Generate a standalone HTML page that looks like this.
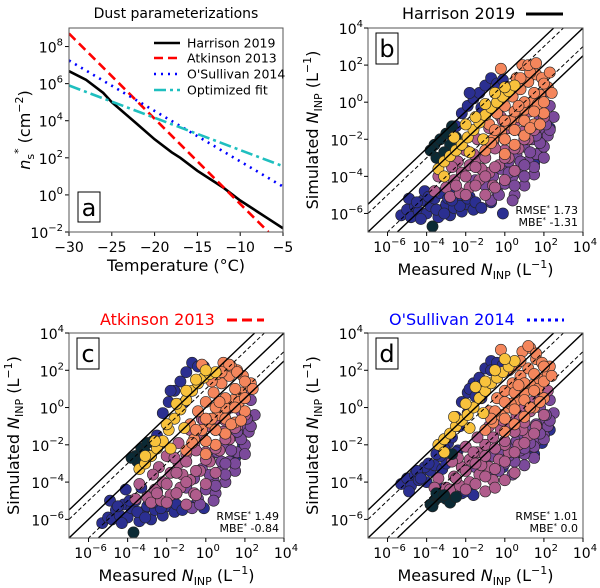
<!DOCTYPE html>
<html><head><meta charset="utf-8"><style>
html,body{margin:0;padding:0;background:#fff;}
svg{display:block;font-family:"DejaVu Sans","Liberation Sans",sans-serif;}
</style></head><body>
<svg id="fig" width="600" height="588" viewBox="0 0 600 588" xmlns="http://www.w3.org/2000/svg"></svg>
<script>
// ---------- Panel a data ----------
const tempTicks=[-30,-25,-20,-15,-10,-5];
const nsTicks=[-2,0,2,4,6,8];
const harrisonT=[-30,-28,-26,-25,-24,-22,-20,-18,-17,-15,-13,-12,-10,-8,-7,-5];
const harrisonLog=[6.67,6.2,5.5,5.0,4.6,3.8,3.0,2.3,2.0,1.3,0.7,0.4,-0.3,-0.9,-1.2,-1.8];
const atkinsonT=[-30,-6.7];
const atkinsonLog=[8.7,-2.0];
const osullivanT=[-30,-5];
const osullivanLog=[7.25,0.45];
const optimizedT=[-30,-5];
const optimizedLog=[5.9,1.55];

// ---------- Scatter data (log10 values) ----------
const logTicks=[-6,-4,-2,0,2,4];
const navyX=[-3.6,-3.3,-3.0,-2.8,-3.5,-3.1,-2.7,-3.8,-2.5,-3.7];
const navyYb=[-2.3,-2.0,-1.7,-2.3,-3.0,-2.7,-1.3,-2.6,-1.9,-6.7];
const navyYc=[-2.6,-2.2,-1.9,-2.6,-2.9,-2.4,-1.8,-2.7,-2.1,-6.7];
const navyYd=[-5.0,-4.8,-4.9,-5.1,-4.6,-4.7,-2.5,-5.2,-4.8,-5.3];
const blueX=[-5.3,-5.0,-4.8,-4.6,-4.4,-4.2,-4.0,-3.8,-3.6,-3.4,-3.2,-3.0,-2.8,-2.6,-2.4,-2.2,-2.0,-1.8,-1.6,-4.9,-4.1,-3.3,-2.5,
 -2.2,-1.9,-1.6,-1.3,-1.0,-0.7,-0.4,-0.1,0.2,-1.8,-1.2,-2.5, 1.9,1.5,-0.1,2.3,
 -4.5,-3.9,-3.5,-2.9,-2.3,-1.9,-4.3,-3.1,-2.7,-1.5,-1.2,-0.7];
const blueYb=[-6.1,-5.8,-6.2,-5.6,-5.9,-5.3,-6.0,-5.6,-5.2,-6.2,-5.8,-5.5,-6.1,-5.7,-5.2,-5.9,-5.5,-5.1,-5.8,-5.2,-4.8,-4.9,-4.7,
 -0.6,-0.2,0.2,0.5,0.9,1.3,1.0,1.2,0.8,0.5,-0.3,-1.3, -2.5,-3.3,-6.0,-1.4,
 -5.4,-5.1,-5.8,-5.2,-5.6,-5.2,-6.3,-6.0,-5.3,-5.4,-5.7,-5.4];
const blueYc=[-6.2,-5.9,-6.0,-5.5,-5.8,-5.2,-5.9,-5.4,-5.0,-6.1,-5.6,-5.3,-6.0,-5.5,-5.0,-5.8,-5.3,-4.9,-5.6,-5.0,-4.4,-4.3,-4.5,
 -0.3,0.3,0.9,1.4,1.9,2.4,2.2,2.2,1.8,0.9,0.2,-1.5, -2.0,-2.7,-5.4,-1.0,
 -5.3,-5.0,-5.6,-5.0,-5.4,-5.0,-6.2,-5.9,-5.1,-5.2,-5.5,-5.3];
const blueYd=[-4.1,-3.8,-4.2,-3.6,-3.9,-3.4,-4.0,-3.4,-3.1,-4.3,-3.3,-3.0,-4.4,-2.7,-2.3,-4.6,-4.5,-4.3,-4.7,-4.5,-3.2,-2.6,-2.4,
 0.3,0.8,1.3,1.6,2.1,2.5,2.4,2.3,2.0,1.0,0.5,-0.5, -1.9,-2.5,-3.2,-1.2,
 -3.4,-3.0,-2.5,-1.9,-1.0,-0.3,-3.8,-2.2,-1.6,0.6,1.2,2.0];
const purpleX=[-1.0,-0.6,-0.2,0.2,0.6,1.0,1.4,1.8,-0.4,0.0,0.4,0.8,1.2,1.6,2.0,2.2,0.5,1.0,1.5,-1.5,-0.7,2.5,2.3,1.8,
 0.5,1.0,1.5,2.0,0.8,1.3,1.8,2.3,0.2,1.0,1.6,2.1,-0.3,0.4];
const purpleYb=[-4.5,-4.0,-3.6,-3.2,-2.8,-2.4,-2.0,-1.6,-4.8,-4.4,-4.0,-3.6,-3.2,-2.8,-2.4,-1.8,-5.0,-4.5,-3.9,-4.2,-5.3,-0.8,-0.2,-0.8,
 -4.5,-4.0,-3.5,-3.0,-3.2,-2.7,-2.2,-1.5,-3.8,-3.4,-1.8,-1.2,-5.0,-5.3];
const purpleYc=[-4.3,-3.8,-3.3,-2.8,-2.4,-2.0,-1.5,-1.1,-4.9,-4.4,-3.9,-3.4,-2.9,-2.4,-2.0,-1.3,-4.6,-4.0,-3.4,-4.6,-5.4,-0.4,0.4,-0.2,
 -4.2,-3.6,-3.0,-2.5,-2.9,-2.3,-1.7,-1.0,-3.6,-3.0,-1.3,-0.6,-5.2,-5.0];
const purpleYd=[-3.0,-2.6,-2.4,-2.1,-1.8,-1.5,-1.2,-0.9,-3.3,-3.0,-2.7,-2.4,-2.1,-1.8,-1.5,-1.0,-3.5,-3.1,-2.7,-3.2,-3.6,-0.3,0.4,0.0,
 -2.9,-2.5,-2.1,-1.7,-2.3,-1.9,-1.4,-0.7,-2.6,-2.2,-0.9,-0.4,-3.4,-3.6];
const mauveX=[-3.4,-3.0,-2.6,-2.2,-1.8,-1.4,-1.0,-0.6,-0.2,0.2,0.6,1.0,1.4,1.8,-2.8,-2.3,-1.8,-1.3,-0.8,-0.3,0.2,0.7,1.2,1.6,-2.0,-1.4,-0.8,-0.2,-3.6,-2.4,-1.2,0.0,0.9,2.0,2.2,-0.6,
 -2.5,-2.0,-1.5,-1.0,-0.5,0.0,0.5,1.0,-2.0,-1.5,-1.0,-0.5,0.0,0.5,1.0,1.5,-1.0,-0.5,0.0,0.5,-2.7,-1.6,-0.1,1.3];
const mauveYb=[-4.0,-4.6,-4.2,-3.8,-3.4,-3.0,-2.6,-2.2,-1.8,-1.4,-1.0,-0.6,-0.2,0.2,-5.1,-4.9,-4.6,-4.2,-3.8,-3.4,-3.0,-2.5,-2.0,-1.4,-2.6,-2.0,-1.4,-0.8,-4.8,-3.2,-3.6,-2.6,-1.6,-0.8,0.6,-4.5,
 -4.5,-4.0,-3.5,-3.0,-2.5,-2.0,-1.5,-1.0,-5.0,-4.5,-4.0,-3.5,-3.0,-2.5,-2.0,-1.5,-5.0,-4.6,-4.2,-3.7,-3.5,-2.8,-1.0,-0.5];
const mauveYc=[-4.1,-4.8,-4.4,-4.0,-3.5,-3.0,-2.5,-2.0,-1.5,-1.0,-0.6,-0.2,0.2,0.6,-5.1,-5.0,-4.7,-4.3,-3.9,-3.4,-2.9,-2.3,-1.7,-1.0,-2.6,-1.9,-1.2,-0.6,-4.9,-3.2,-3.6,-2.4,-1.3,-0.4,1.0,-4.6,
 -4.6,-4.1,-3.5,-2.9,-2.3,-1.8,-1.2,-0.7,-5.1,-4.6,-4.0,-3.4,-2.8,-2.2,-1.7,-1.1,-5.2,-4.7,-4.1,-3.5,-3.6,-2.7,-0.7,0.0];
const mauveYd=[-3.8,-4.3,-3.7,-3.2,-2.8,-2.4,-2.0,-1.6,-1.2,-0.8,-0.4,0.0,0.3,0.6,-4.4,-4.2,-4.0,-3.6,-3.2,-2.8,-2.4,-2.0,-1.5,-1.0,-2.1,-1.6,-1.0,-0.5,-4.3,-2.7,-3.1,-2.0,-1.2,-0.4,0.9,-3.9,
 -3.8,-3.4,-3.0,-2.6,-2.2,-1.8,-1.3,-0.8,-4.4,-4.1,-3.7,-3.3,-2.9,-2.4,-1.9,-1.4,-4.5,-4.3,-3.9,-3.5,-2.9,-2.4,-0.7,-0.2];
const orangeX=[-1.0,-0.6,-0.2,0.2,0.6,1.0,1.4,1.8,2.2,0.0,0.5,1.0,1.5,2.0,-0.4,0.0,0.4,0.8,1.2,1.6,-0.8,0.3,1.7,1.3,0.9,1.2,-0.2,1.9,2.3,1.6,0.6,
 -0.5,0.0,0.5,1.0,1.5,2.0,0.0,0.5,1.0,1.5,2.0,2.4,0.3,0.8,1.3,1.8,-0.7,0.7];
const orangeYb=[-2.6,-2.0,-1.6,-1.2,-0.8,-0.4,0.0,0.4,0.8,-2.8,-2.3,-1.8,-1.2,-0.6,-0.6,-0.2,0.3,0.7,1.1,1.5,-1.2,-1.0,-0.1,1.6,2.0,2.0,1.8,1.3,1.6,2.1,1.3,
 -1.5,-1.0,-0.5,0.0,0.5,1.0,-2.0,-1.5,-1.0,-0.5,0.0,0.5,0.8,1.3,-1.4,-1.2,-2.2,-0.2];
const orangeYc=[-2.3,-1.7,-1.2,-0.8,-0.4,0.0,0.4,0.8,1.2,-2.5,-2.0,-1.4,-0.8,-0.2,-0.2,0.3,0.8,1.3,1.7,2.0,-0.9,-0.6,0.3,2.2,2.4,2.3,2.3,1.7,1.3,1.9,1.8,
 -1.2,-0.6,0.0,0.5,1.0,1.4,-1.8,-1.2,-0.6,0.0,0.5,1.0,1.4,1.9,-0.9,-0.7,-1.9,0.3];
const orangeYd=[-1.2,-0.8,-0.4,0.0,0.4,0.8,1.2,1.5,1.8,-1.3,-0.9,-0.5,0.0,0.5,0.5,0.9,1.3,1.7,2.1,2.6,-0.2,0.2,1.0,3.2,3.0,3.3,3.1,2.4,2.2,2.9,2.3,
 -0.2,0.3,0.8,1.3,1.8,2.2,-0.6,-0.1,0.4,0.9,1.4,1.7,2.1,2.5,0.0,0.3,-0.6,1.2];
const yellowX=[-3.4,-3.1,-2.8,-2.5,-2.2,-1.9,-1.6,-1.3,-1.0,-0.7,-0.4,-0.1,0.2,0.5,-1.5,-1.0,-0.5,-2.6,-1.8,-2.0,0.0,-3.1,-1.1];
const yellowYb=[-3.6,-3.2,-2.9,-2.6,-2.3,-1.9,-1.5,-1.1,-0.7,-0.3,0.0,0.3,0.6,0.9,-0.8,-0.1,0.5,-1.9,-2.7,-1.2,0.8,-4.0,-2.0];
const yellowYc=[-3.3,-3.0,-2.6,-2.2,-1.8,-1.2,-0.6,-0.1,0.4,0.9,1.3,1.6,1.8,1.9,0.2,0.9,1.5,-1.8,-2.2,-0.9,2.0,-2.6,-1.1];
const yellowYd=[-2.0,-1.7,-1.4,-1.0,-0.7,-0.4,0.0,0.5,0.9,1.3,1.6,1.9,2.2,2.5,1.1,1.4,2.0,-0.5,-1.1,0.2,2.6,-2.4,-0.3];
const refOffsets=[0,1,-1,1.5,-1.5];
const statsB=["1.73","-1.31"], statsC=["1.49","-0.84"], statsD=["1.01","0.0"];

const NS="http://www.w3.org/2000/svg";
const svg=document.getElementById('fig');
function mk(tag,attrs,parent){const e=document.createElementNS(NS,tag);for(const k in attrs)e.setAttribute(k,attrs[k]);(parent||svg).appendChild(e);return e;}
function txt(x,y,s,size,anchor,parent,fill){const t=mk('text',{x:x,y:y,'font-size':size,'text-anchor':anchor||'start',fill:fill||'#000'},parent);t.textContent=s;return t;}
function pow10(x,y,exp,anchor,parent){
  const t=mk('text',{x:x,y:y,'font-size':14,'text-anchor':anchor},parent);
  const a=document.createElementNS(NS,'tspan');a.textContent='10';t.appendChild(a);
  const b=document.createElementNS(NS,'tspan');b.setAttribute('dy',-7);b.setAttribute('font-size',10);
  b.textContent=exp<0?'\u2212'+(-exp):String(exp);t.appendChild(b);return t;}

// ---------- Panel a ----------
(function(){
  const X0=69,X1=283,Y0=28,Y1=232;
  const g=mk('g',{});
  
  
  const xs=t=>X0+(t+30)/25*(X1-X0);
  const ys=l=>Y1-(l+2)/11*(Y1-Y0);
  const cpa=mk('clipPath',{id:'clipA'},g);
  mk('rect',{x:X0,y:Y0,width:X1-X0,height:Y1-Y0},cpa);
  const title=txt(176,18,'Dust parameterizations',14,'middle',g);
  
  
  tempTicks.forEach(t=>{
    mk('line',{x1:xs(t),x2:xs(t),y1:Y1,y2:Y1+4,stroke:'#000'},g);
    const l=txt(xs(t),252,(t<0?'\u2212':'')+Math.abs(t),14,'middle',g);
    
    
  });
  nsTicks.forEach(n=>{
    mk('line',{x1:X0-4,x2:X0,y1:ys(n),y2:ys(n),stroke:'#000'},g);
    const l=pow10(X0-6,ys(n)+6,n,'end',g);
    
    
  });
  const series=[[harrisonT,harrisonLog,'#000','none','harrison-line',2.6],[atkinsonT,atkinsonLog,'#ff0000','9,5','atkinson-line',2.6],
    [osullivanT,osullivanLog,'#0000ff','2,5','osullivan-line',2.6],[optimizedT,optimizedLog,'#1fbfbf','12,4,3,4','optimized-line',2.6]];
  const cg=mk('g',{'clip-path':'url(#clipA)'},g);
  series.forEach(s=>{
    const d=s[0].map((t,i)=>(i?'L':'M')+xs(t).toFixed(1)+','+ys(s[1][i]).toFixed(1)).join('');
    const p=mk('path',{d:d,fill:'none',stroke:s[2],'stroke-width':s[5],'stroke-dasharray':s[3]},cg);
    
    
  });
  mk('rect',{x:X0,y:Y0,width:X1-X0,height:Y1-Y0,fill:'none',stroke:'#555','stroke-width':1},g);
  const names=['Harrison 2019','Atkinson 2013',"O'Sullivan 2014",'Optimized fit'];
  const ly=[43,58,74,90];
  series.forEach((s,i)=>{
    const le=mk('g',{},g);
    
    
    mk('line',{x1:154,x2:180,y1:ly[i],y2:ly[i],stroke:s[2],'stroke-width':2.6,'stroke-dasharray':s[3]},le);
    txt(187,ly[i]+4.5,names[i],12.5,'start',le);
  });
  const lb=mk('g',{},g);
  
  
  mk('rect',{x:78,y:192,width:22,height:30,fill:'#fff',stroke:'#000'},lb);
  txt(89,216,'a',24,'middle',lb);
  const xt=txt(176,271,'Temperature (\u00b0C)',16,'middle',g);
  
  
  const yt=mk('text',{x:0,y:0,'font-size':16,'text-anchor':'middle',transform:'translate(30,130) rotate(-90)'},g);
  
  
  yt.innerHTML='<tspan font-style="italic">n</tspan><tspan font-size="11" dy="4">s</tspan><tspan dy="-12" font-size="11">*</tspan><tspan dy="8"> (cm</tspan><tspan dy="-7" font-size="11">\u22122</tspan><tspan dy="7">)</tspan>';
})();

// ---------- Scatter panels ----------
const colors={navy:'#0b2a35',blue:'#2b2f91',purple:'#7b4a9b',mauve:'#b05c8c',orange:'#f4865c',yellow:'#f8c23c'};
function scatterPanel(id,X0,Y0,Y1,ys,label,stats,titleInfo){
  const X1=X0+215;
  const g=mk('g',{});
  
  
  const sx=v=>X0+(v+7)/11*(X1-X0);
  const sy=v=>Y1-(v+7)/11*(Y1-Y0);
  const cp=mk('clipPath',{id:'clip'+id},g);
  mk('rect',{x:X0,y:Y0,width:X1-X0,height:Y1-Y0},cp);
  const cg=mk('g',{'clip-path':'url(#clip'+id+')'},g);
  const order=[['blue',blueX,ys.blue],['purple',purpleX,ys.purple],['mauve',mauveX,ys.mauve],['orange',orangeX,ys.orange],['navy',navyX,ys.navy],['yellow',yellowX,ys.yellow]];
  order.forEach(o=>{
    o[1].forEach((x,i)=>{
      const c=mk('circle',{cx:sx(x).toFixed(1),cy:sy(o[2][i]).toFixed(1),r:5.6,fill:colors[o[0]],stroke:'#222','stroke-width':0.6},cg);
      
      
    });
  });
  refOffsets.forEach(off=>{
    const l=mk('line',{x1:sx(-7),y1:sy(-7+off),x2:sx(4),y2:sy(4+off),stroke:'#000','stroke-width':off===1||off===-1?1:1.4,'stroke-dasharray':off===1||off===-1?'4,2.5':'none'},cg);
    
    
  });
  mk('rect',{x:X0,y:Y0,width:X1-X0,height:Y1-Y0,fill:'none',stroke:'#555'},g);
  logTicks.forEach(t=>{
    mk('line',{x1:sx(t),x2:sx(t),y1:Y1,y2:Y1+4,stroke:'#000'},g);
    const a=pow10(sx(t)+2,Y1+20,t,'middle',g);
    
    
    mk('line',{x1:X0-4,x2:X0,y1:sy(t),y2:sy(t),stroke:'#000'},g);
    const b=pow10(X0-5,sy(t)+6,t,'end',g);
    
    
  });
  const lb=mk('g',{},g);
  
  
  mk('rect',{x:X0+8,y:Y0+5,width:22,height:31,fill:'#fff',stroke:'#000'},lb);
  txt(X0+19,Y0+29,label,24,'middle',lb);
  const st=mk('g',{},g);
  
  
  const s1=mk('text',{x:X1-5,y:Y1-18,'font-size':11,'text-anchor':'end'},st);
  s1.innerHTML='RMSE<tspan dy="-4" font-size="7">*</tspan><tspan dy="4"> '+stats[0]+'</tspan>';
  const s2=mk('text',{x:X1-5,y:Y1-6,'font-size':11,'text-anchor':'end'},st);
  s2.innerHTML='MBE<tspan dy="-4" font-size="7">*</tspan><tspan dy="4"> '+stats[1]+'</tspan>';
  const xt=mk('text',{x:(X0+X1)/2,y:Y1+43,'font-size':16,'text-anchor':'middle'},g);
  
  
  xt.innerHTML='Measured <tspan font-style="italic">N</tspan><tspan font-size="11" dy="4">INP</tspan><tspan dy="-4"> (L</tspan><tspan dy="-7" font-size="11">\u22121</tspan><tspan dy="7">)</tspan>';
  const yt=mk('text',{x:0,y:0,'font-size':16,'text-anchor':'middle',transform:'translate('+(X0-50)+','+((Y0+Y1)/2)+') rotate(-90)'},g);
  
  
  yt.innerHTML='Simulated <tspan font-style="italic">N</tspan><tspan font-size="11" dy="4">INP</tspan><tspan dy="-4"> (L</tspan><tspan dy="-7" font-size="11">\u22121</tspan><tspan dy="7">)</tspan>';
  const tg=mk('g',{},g);
  
  
  txt(titleInfo.x,titleInfo.y,titleInfo.text,16,'start',tg,titleInfo.color);
  mk('line',{x1:titleInfo.lx,x2:titleInfo.lx+37,y1:titleInfo.y-5,y2:titleInfo.y-5,stroke:titleInfo.color,'stroke-width':3,'stroke-dasharray':titleInfo.dash},tg);
}
scatterPanel('b',368,28,232,{navy:navyYb,blue:blueYb,purple:purpleYb,mauve:mauveYb,orange:orangeYb,yellow:yellowYb},'b',statsB,
  {x:402,y:19,text:'Harrison 2019',color:'#000',lx:526,dash:'none'});
scatterPanel('c',69,333,538,{navy:navyYc,blue:blueYc,purple:purpleYc,mauve:mauveYc,orange:orangeYc,yellow:yellowYc},'c',statsC,
  {x:100,y:325,text:'Atkinson 2013',color:'#ff0000',lx:227,dash:'10,5'});
scatterPanel('d',368,333,538,{navy:navyYd,blue:blueYd,purple:purpleYd,mauve:mauveYd,orange:orangeYd,yellow:yellowYd},'d',statsD,
  {x:389,y:325,text:"O'Sullivan 2014",color:'#0000ff',lx:527,dash:'3,4'});
</script>
</body></html>
